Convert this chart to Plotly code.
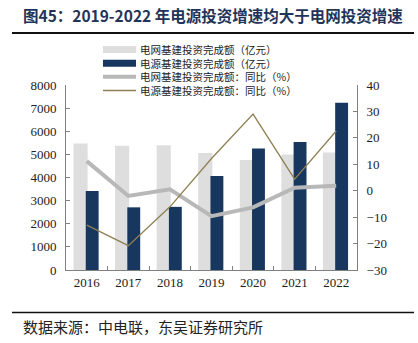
import plotly.graph_objects as go

years = ["2016", "2017", "2018", "2019", "2020", "2021", "2022"]
grid_invest = [5470, 5370, 5390, 5060, 4760, 5000, 5080]
power_invest = [3420, 2710, 2730, 4070, 5250, 5540, 7230]
grid_yoy = [11.2, -2.0, 0.5, -9.6, -6.3, 1.1, 1.9]
power_yoy = [-13.0, -20.8, -6.1, 12.2, 29.0, 4.4, 22.6]
names = ["电网基建投资完成额（亿元）", "电源基建投资完成额（亿元）",
         "电网基建投资完成额：同比（%）", "电源基建投资完成额：同比（%）"]
title_text = "图45：2019-2022 年电源投资增速均大于电网投资增速"
source_text = "数据来源：中电联，东吴证券研究所"

C_GRID = "#DEDEDE"
C_POWER = "#17375E"
C_GLINE = "#B8B8B8"
C_PLINE = "#8F8053"
AX = "#808080"
NUMF = "Liberation Serif"
CJK = "Noto Sans CJK SC"

fig = go.Figure()
fig.add_trace(go.Bar(x=years, y=grid_invest, name=names[0], marker_color=C_GRID,
                     marker_line_width=0, width=0.34, offset=-0.32, showlegend=False))
fig.add_trace(go.Bar(x=years, y=power_invest, name=names[1], marker_color=C_POWER,
                     marker_line_width=0, width=0.31, offset=-0.025, showlegend=False))
fig.add_trace(go.Scatter(x=years, y=grid_yoy, name=names[2], mode="lines",
                         line=dict(color=C_GLINE, width=4), yaxis="y2", showlegend=False))
fig.add_trace(go.Scatter(x=years, y=power_yoy, name=names[3], mode="lines",
                         line=dict(color=C_PLINE, width=1.3), yaxis="y2", showlegend=False))

W, H = 418, 343
L, R, T, B = 66, 61, 85, 73
pw, ph = W - L - R, H - T - B

def px(x):
    return (x - L) / pw

def py(y):
    return (H - B - y) / ph

shapes = []
annotations = []
# custom legend (one multi-line text block + symbols)
LEG_FS = 10.5
step = LEG_FS * 1.3
center = 70.0
leg_y = [center + (i - 1.5) * step for i in range(4)]
sym = [("rect", C_GRID, 7), ("rect", C_POWER, 7), ("line", C_GLINE, 4), ("line", C_PLINE, 1.5)]
for i, (kind, col, th) in enumerate(sym):
    yc = leg_y[i]
    if kind == "rect":
        shapes.append(dict(type="rect", xref="paper", yref="paper",
                           x0=px(103), x1=px(136), y0=py(yc + th / 2), y1=py(yc - th / 2),
                           fillcolor=col, line=dict(width=0)))
    else:
        shapes.append(dict(type="line", xref="paper", yref="paper",
                           x0=px(103), x1=px(136), y0=py(yc), y1=py(yc),
                           line=dict(color=col, width=th)))
annotations.append(dict(text="<br>".join(names), xref="paper", yref="paper",
                        x=px(139), y=py(center), xanchor="left", yanchor="middle",
                        align="left", showarrow=False, borderpad=0,
                        font=dict(family=CJK, size=LEG_FS, color="#222")))

# title and rules
annotations.append(dict(text="<b>" + title_text + "</b>", xref="paper", yref="paper",
                        x=px(21), y=py(15), xanchor="left", yanchor="middle", showarrow=False,
                        font=dict(family=CJK, size=15.5, color="#1F3458")))
shapes.append(dict(type="line", xref="paper", yref="paper", x0=px(12), x1=px(414),
                   y0=py(33), y1=py(33), line=dict(color="#111", width=2)))
shapes.append(dict(type="line", xref="paper", yref="paper", x0=px(12), x1=px(414),
                   y0=py(312.5), y1=py(312.5), line=dict(color="#111", width=1.5)))
annotations.append(dict(text=source_text, xref="paper", yref="paper",
                        x=px(21), y=py(326), xanchor="left", yanchor="middle", showarrow=False,
                        font=dict(family=CJK, size=15, color="#222")))

fig.update_layout(
    width=W, height=H, margin=dict(l=L, r=R, t=T, b=B, autoexpand=False),
    paper_bgcolor="white", plot_bgcolor="white", barmode="overlay",
    showlegend=False, shapes=shapes, annotations=annotations,
    xaxis=dict(type="category", showline=True, linecolor=AX, linewidth=1,
               ticks="inside", tickson="boundaries", ticklen=4, tickcolor=AX,
               showgrid=False, tickfont=dict(family=NUMF, size=13, color="#222"),
               range=[-0.5, 6.5]),
    yaxis=dict(range=[0, 8000], dtick=1000, showline=True, linecolor=AX, linewidth=1,
               ticks="inside", ticklen=4, tickcolor=AX, showgrid=False, zeroline=False,
               tickfont=dict(family=NUMF, size=13, color="#222"), ticklabelstandoff=6),
    yaxis2=dict(range=[-30, 40], dtick=10, overlaying="y", side="right", showline=True,
                linecolor=AX, linewidth=1, ticks="inside", ticklen=4, tickcolor=AX,
                showgrid=False, zeroline=False,
                tickfont=dict(family=NUMF, size=13, color="#222"), ticklabelstandoff=6),
)

fig.write_html("out.html")
